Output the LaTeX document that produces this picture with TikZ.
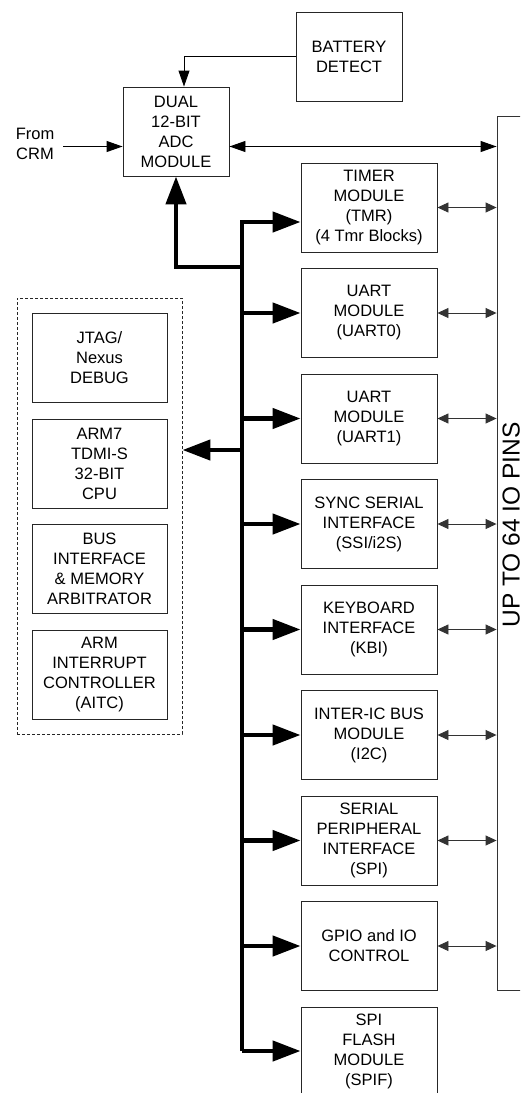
\documentclass[tikz,border=0pt]{standalone}
\usepackage{fontspec}
\setmainfont{Liberation Sans}
\usetikzlibrary{arrows.meta,calc}
\begin{document}
\begin{tikzpicture}[x=1pt,y=-1pt,
  box/.style={draw=black!85,line width=0.9pt,minimum width=136pt,minimum height=89pt,inner sep=0pt,align=center,font=\fontsize{16.5}{20}\selectfont},
  lbl/.style={inner sep=0pt,align=center,font=\fontsize{16.5}{20}\selectfont},
  sig/.style={draw=black,line width=0.9pt,-{Triangle[length=16pt,width=11pt]}},
  sig2/.style={draw=black,line width=0.9pt,{Triangle[length=16pt,width=11pt]}-{Triangle[length=16pt,width=11pt]}},
  io/.style={draw=black!80,line width=0.9pt,{Triangle[length=11pt,width=10pt]}-{Triangle[length=11pt,width=10pt]}},
  bus/.style={draw=black,line width=4.5pt},
  busarr/.style={bus,-{Triangle[length=28pt,width=20pt]}}]
\clip (0,0) rectangle (520,1093);
\fill[white] (0,0) rectangle (520,1093);
% top blocks
\node[box,minimum width=106pt] (bat) at (349,56.5) {BATTERY\\DETECT};
\node[box,minimum width=106pt] (adc) at (176,131.5) {DUAL\\12-BIT\\ADC\\MODULE};
\node[lbl] (crm) at (35,144) {From\\CRM};
% peripheral blocks
\node[box] (tmr) at (369,207.5) {TIMER\\MODULE\\(TMR)\\(4 Tmr Blocks)};
\node[box] (uart0) at (369,313) {UART\\MODULE\\(UART0)};
\node[box] (uart1) at (369,418.5) {UART\\MODULE\\(UART1)};
\node[box] (ssi) at (369,524) {SYNC SERIAL\\INTERFACE\\(SSI/i2S)};
\node[box] (kbi) at (369,629.5) {KEYBOARD\\INTERFACE\\(KBI)};
\node[box] (i2c) at (369,735) {INTER-IC BUS\\MODULE\\(I2C)};
\node[box] (spi) at (369,840.5) {SERIAL\\PERIPHERAL\\INTERFACE\\(SPI)};
\node[box] (gpio) at (369,946) {GPIO and IO\\CONTROL};
\node[box] (spif) at (369,1051.5) {SPI\\FLASH\\MODULE\\(SPIF)};
% CPU group
\node[draw=black!85,line width=0.9pt,dash pattern=on 3pt off 2pt,minimum width=165pt,minimum height=436pt,inner sep=0pt] (dbox) at (99.5,516) {};
\node[box,minimum width=135pt] (jtag) at (99.5,358) {JTAG/\\Nexus\\DEBUG};
\node[box,minimum width=135pt] (arm) at (99.5,463.5) {ARM7\\TDMI-S\\32-BIT\\CPU};
\node[box,minimum width=135pt] (bif) at (99.5,569) {BUS\\INTERFACE\\\& MEMORY\\ARBITRATOR};
\node[box,minimum width=135pt] (aitc) at (99.5,674.5) {ARM\\INTERRUPT\\CONTROLLER\\(AITC)};
% IO pins block
\node[draw=black!80,line width=0.9pt,minimum width=43pt,minimum height=874pt,inner sep=0pt] (iop) at (518.5,553) {};
\node[rotate=90,anchor=base,inner sep=0pt,font=\fontsize{24.5}{28}\selectfont] (iotxt) at (519.5,525) {UP TO 64 IO PINS};
% thin connectors
\draw[sig] (bat.west) -| ([xshift=8pt]adc.north);
\coordinate (c0) at (63,146.5);
\draw[sig] (c0) -- (c0 -| adc.west);
\draw[sig2] (c0 -| adc.east) -- (c0 -| iop.west);
\foreach \n in {tmr,uart0,uart1,ssi,kbi,i2c,spi,gpio}{
  \draw[io] (\n.east) -- (\n.east -| iop.west);
}
% bus
\coordinate (btop) at (242,222);
\coordinate (bbot) at (242,1051);
\coordinate (jadc) at (242,267);
\coordinate (jcpu) at (242,450);
\draw[busarr] (bbot) -- (btop) -- (btop -| tmr.west);
\draw[busarr] (jadc) -| (adc.south);
\draw[busarr] (jcpu) -- (jcpu -| dbox.east);
\foreach \n in {uart0,uart1,ssi,kbi,i2c,spi,gpio}{
  \draw[busarr] (\n.west -| btop) -- (\n.west);
}
\draw[busarr] (bbot) -- (bbot -| spif.west);
\end{tikzpicture}
\end{document}
